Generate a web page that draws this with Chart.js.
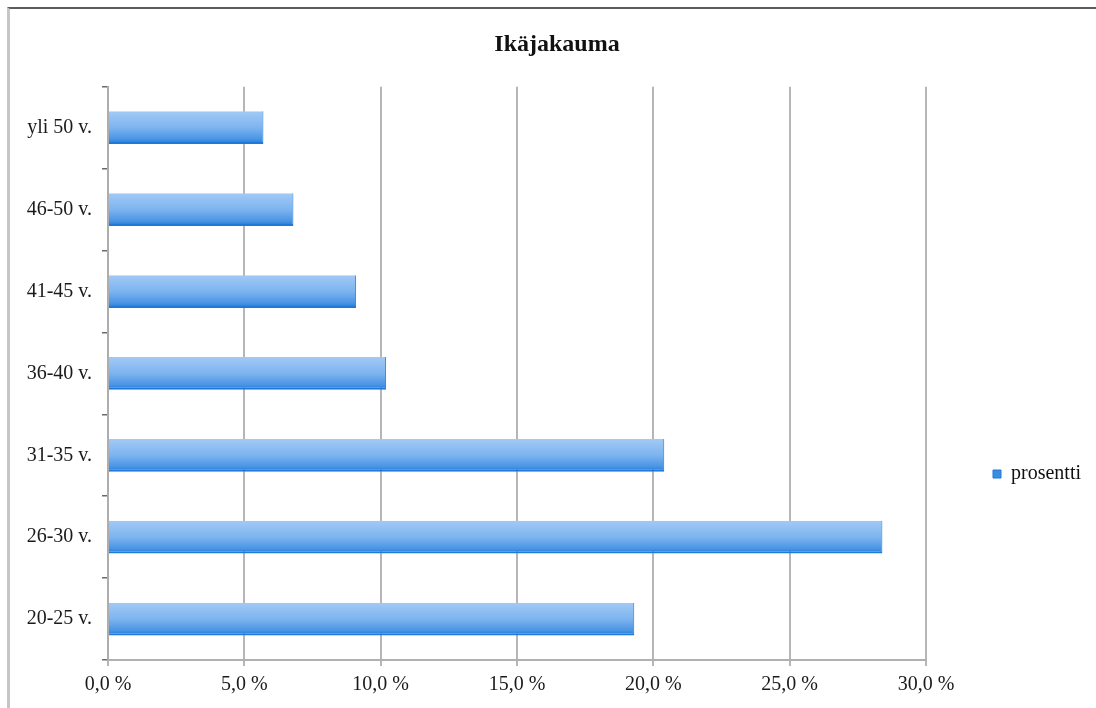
<!DOCTYPE html>
<html>
<head>
<meta charset="utf-8">
<title>Ikäjakauma</title>
<script src="https://cdn.jsdelivr.net/npm/chart.js@4/dist/chart.umd.min.js"></script>
<style>
  html, body { margin: 0; padding: 0; background: #fff; overflow: hidden; }
  #frame {
    position: absolute; left: 7px; top: 7px; width: 1200px; height: 800px;
    border-top: 2px solid #5c5c5c; border-left: 3px solid #c6c6c6; background: #fff;
  }
  #c { position: absolute; left: 0; top: 0; }
</style>
</head>
<body>
<div id="frame"></div>
<canvas id="c" width="1096" height="708"></canvas>
<script>
const ageGroups = ['20-25 v.', '26-30 v.', '31-35 v.', '36-40 v.', '41-45 v.', '46-50 v.', 'yli 50 v.'];
const percentages = [19.3, 28.4, 20.4, 10.2, 9.1, 6.8, 5.7];
const seriesName = 'prosentti';
const chartTitle = 'Ikäjakauma';
const xTicks = [0, 5, 10, 15, 20, 25, 30];

const serif = '"Liberation Serif", "DejaVu Serif", serif';
const barPct = 0.4;

// vertical gradient on each bar, built from the y scale position of that bar
function barFill(ctx) {
  const chart = ctx.chart;
  const area = chart.chartArea;
  if (!area || ctx.type !== 'data') return '#3a8ee2';
  const y = chart.scales.y.getPixelForValue(ctx.dataIndex);
  const half = (area.bottom - area.top) / ageGroups.length * barPct / 2;
  const g = chart.ctx.createLinearGradient(0, y - half, 0, y + half);
  g.addColorStop(0, '#a2c9f6');
  g.addColorStop(0.5, '#7db4ef');
  g.addColorStop(0.85, '#4a94e4');
  g.addColorStop(1, '#1a78d9');
  return g;
}

// nudges the title and legend to where the original sheet had them
const nudgeBoxes = {
  id: 'nudgeBoxes',
  afterLayout(chart) {
    const t = chart.titleBlock;
    if (t) {
      const dx = 557 - (t.left + t.right) / 2;
      t.left += dx; t.right += dx;
    }
    const l = chart.legend;
    if (l) {
      const dx = 983 - l.left;
      const dy = 474 - (l.top + l.bottom) / 2;
      l.left += dx; l.right += dx;
      l.top += dy; l.bottom += dy;
    }
  }
};

new Chart(document.getElementById('c'), {
  type: 'bar',
  data: {
    labels: ageGroups,
    datasets: [{
      label: seriesName,
      data: percentages,
      backgroundColor: barFill,
      borderColor: '#1f79da',
      borderWidth: { top: 0, right: 1, bottom: 2, left: 0 },
      borderSkipped: false,
      barPercentage: barPct,
      categoryPercentage: 1
    }]
  },
  options: {
    indexAxis: 'y',
    responsive: false,
    animation: false,
    layout: { padding: { left: 0, right: 62, top: 0, bottom: 0 } },
    plugins: {
      title: {
        display: true,
        text: chartTitle,
        color: '#111',
        font: { family: serif, size: 24, weight: 'bold' },
        padding: { top: 30, bottom: 28 }
      },
      legend: {
        position: 'right',
        fullSize: false,
        labels: {
          color: '#111',
          font: { family: serif, size: 20 },
          boxWidth: 8,
          boxHeight: 8,
          padding: 10,
          generateLabels(chart) {
            const items = Chart.defaults.plugins.legend.labels.generateLabels(chart);
            items.forEach(item => {
              item.fillStyle = '#3a8ee2';
              item.strokeStyle = '#1f79da';
              item.lineWidth = 1;
            });
            return items;
          }
        }
      },
      tooltip: { enabled: false }
    },
    scales: {
      x: {
        min: 0,
        max: 30,
        afterBuildTicks(scale) { scale.ticks = xTicks.map(v => ({ value: v })); },
        afterFit(scale) { scale.height = 48; },
        grid: { color: '#b6b6b6', lineWidth: 2, tickLength: 6 },
        border: { display: true, color: '#b0b0b0', width: 2 },
        ticks: {
          color: '#1a1a1a',
          font: { family: serif, size: 20 },
          padding: 7,
          callback: v => v.toFixed(1).replace('.', ',') + ' %'
        }
      },
      y: {
        reverse: true,
        afterFit(scale) { scale.width = 108; },
        grid: { display: true, drawOnChartArea: false, drawTicks: true, tickLength: 6, offset: true, color: '#6a6a6a', lineWidth: 1.5 },
        border: { display: true, color: '#adadad', width: 2 },
        ticks: {
          color: '#1a1a1a',
          font: { family: serif, size: 20 },
          padding: 10
        }
      }
    }
  },
  plugins: [nudgeBoxes]
});
</script>
</body>
</html>
